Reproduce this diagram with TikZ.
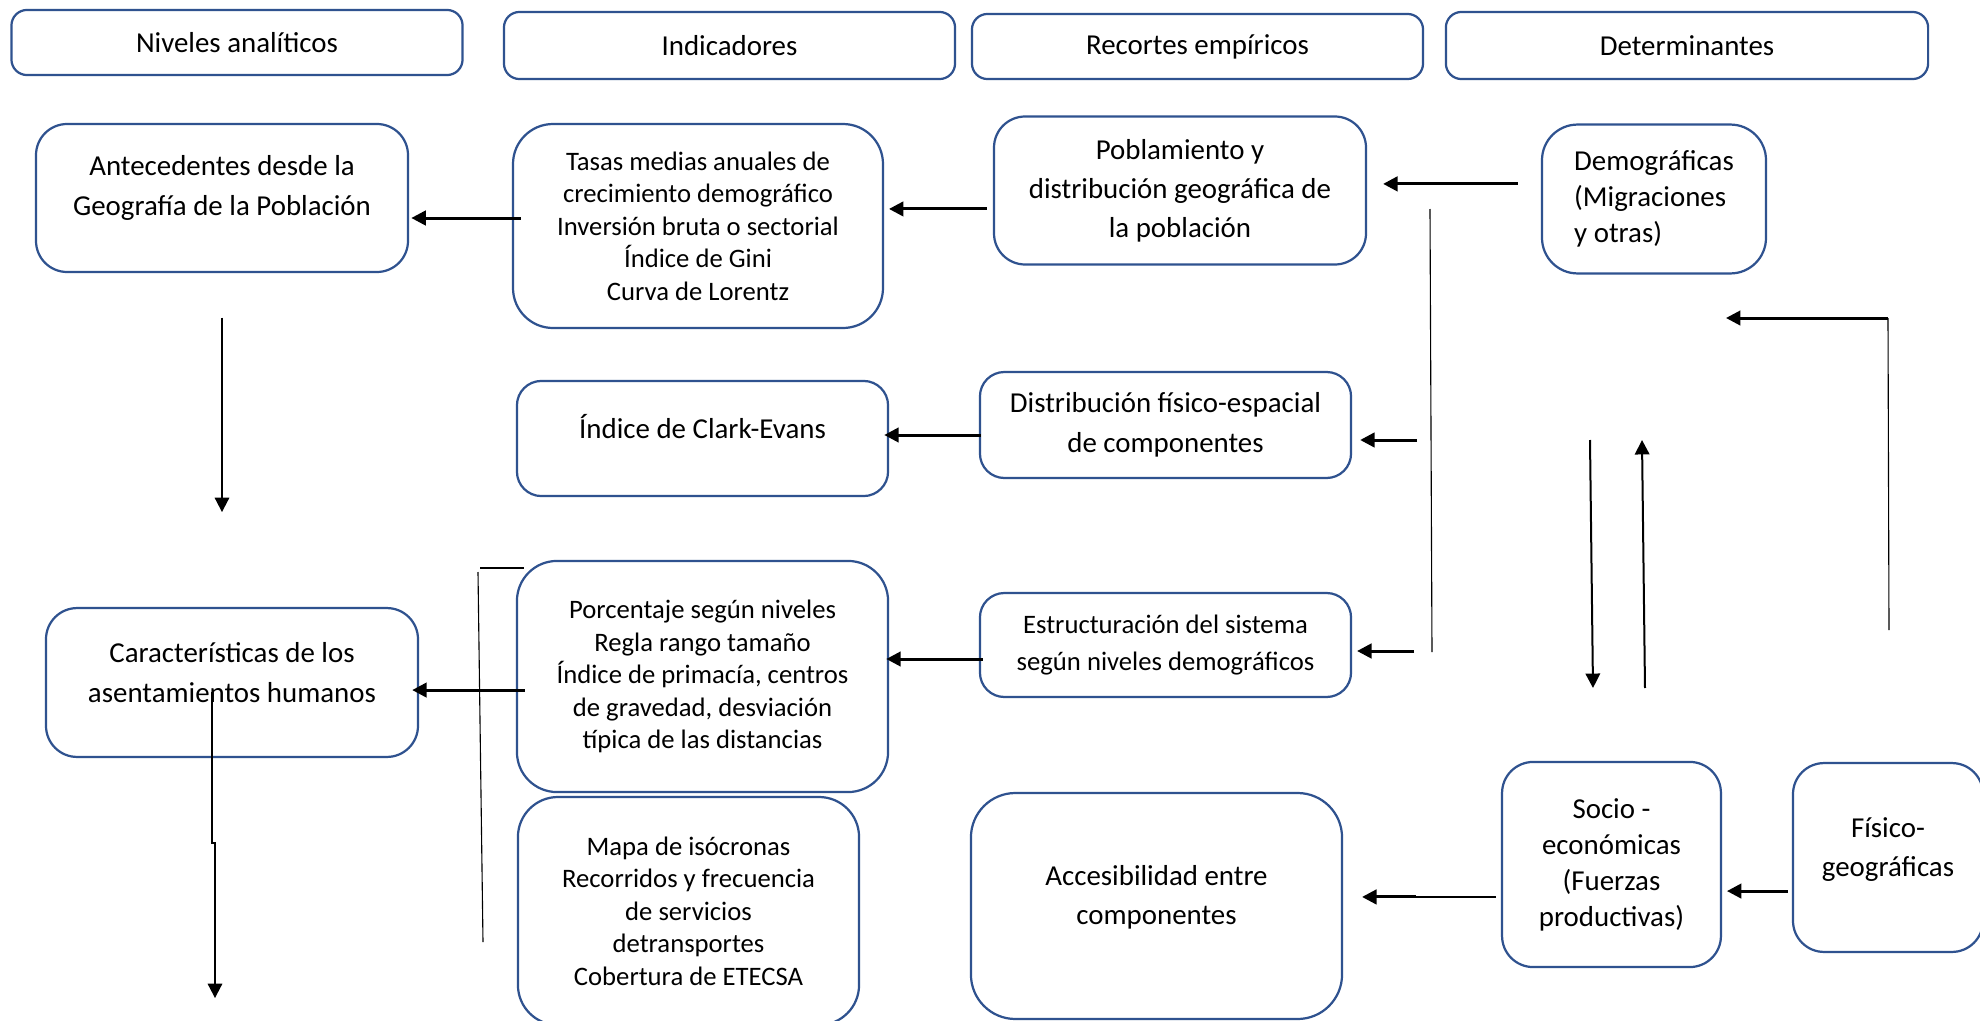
\documentclass[tikz,border=0pt]{standalone}
\usepackage{fontspec}
\setmainfont{Carlito}
\usepackage{xcolor}
\usetikzlibrary{arrows.meta, positioning}
\definecolor{boxblue}{RGB}{47,82,143}

\begin{document}
\begin{tikzpicture}[
    x=0.45pt, y=-0.45pt,
    header/.style={rectangle, rounded corners=7pt, draw=boxblue, line width=1pt, text centered, font=\fontsize{13}{16}\selectfont},
    box/.style={rectangle, rounded corners=14pt, draw=boxblue, line width=1pt, align=center, font=\fontsize{13}{17.5}\selectfont},
    smallbox/.style={box, font=\fontsize{12}{14.6}\selectfont},
    boxlabel/.style={align=center, yshift=4.5pt, font=\fontsize{13}{17.7}\selectfont},
    arrow/.style={-{Triangle[length=6.5pt,width=6.5pt]}, line width=1.35pt},
    thinarrow/.style={-{Triangle[length=6.5pt,width=6.5pt]}, line width=0.9pt},
    thinline/.style={line width=0.5pt}
]

\useasboundingbox (0,0) rectangle (1980,1021);
\fill[white] (0,0) rectangle (1980,1021);

% column headers
\node[header, minimum width=203pt, minimum height=29.3pt] (niveles) at (237,42.5) {Niveles analíticos};
\node[header, minimum width=203pt, minimum height=30.2pt] (indic) at (729.5,45.5) {Indicadores};
\node[header, minimum width=203pt, minimum height=29.3pt] (recortes) at (1197.5,46.5) {Recortes empíricos};
\node[header, minimum width=217pt, minimum height=30.2pt] (determ) at (1687,45.5) {Determinantes};

% boxes
\node[box, minimum width=167.4pt, minimum height=66.6pt,
      label={[boxlabel]center:Antecedentes desde la\\Geografía de la Población}] (antec) at (222,198) {};
\node[smallbox, rounded corners=18pt, minimum width=166.5pt, minimum height=91.8pt] (tasas) at (698,226) {Tasas medias anuales de\\crecimiento demográfico\\Inversión bruta o sectorial\\Índice de Gini\\Curva de Lorentz};
\node[box, minimum width=167.4pt, minimum height=66.6pt] (pobla) at (1180,190.5) {Poblamiento y\\distribución geográfica de\\la población};
\node[box, align=left, font=\fontsize{13}{16.2}\selectfont, rounded corners=16pt, minimum width=100.8pt, minimum height=67pt] (demog) at (1654,199) {Demográficas\\(Migraciones\\y otras)};
\node[box, rounded corners=11pt, minimum width=167pt, minimum height=51.8pt,
      label={[boxlabel, yshift=1pt]center:Índice de Clark-Evans}] (clark) at (702.5,438.5) {};
\node[box, rounded corners=11pt, font=\fontsize{13}{18}\selectfont, minimum width=167pt, minimum height=47.7pt] (distrib) at (1165.5,425) {Distribución físico-espacial\\de componentes};
\node[smallbox, rounded corners=18pt, minimum width=167pt, minimum height=104pt] (porcent) at (702.5,676.5) {Porcentaje según niveles\\Regla rango tamaño\\Índice de primacía, centros\\de gravedad, desviación\\típica de las distancias};
\node[box, rounded corners=11pt, font=\fontsize{12}{16.6}\selectfont, minimum width=167pt, minimum height=46.8pt] (estruct) at (1165.5,645) {Estructuración del sistema\\según niveles demográficos};
\node[box, minimum width=167.4pt, minimum height=67pt,
      label={[boxlabel]center:Características de los\\asentamientos humanos}] (caract) at (232,682.5) {};
\node[smallbox, rounded corners=18pt, minimum width=153.5pt, minimum height=102.6pt] (mapa) at (688.5,911) {Mapa de isócronas\\Recorridos y frecuencia\\de servicios\\detransportes\\Cobertura de ETECSA};
\node[box, rounded corners=20pt, minimum width=167pt, minimum height=101.7pt,
      label={[boxlabel, yshift=-0.5pt]center:Accesibilidad entre\\componentes}] (accesib) at (1156.5,906) {};
\node[box, font=\fontsize{13}{16.2}\selectfont, minimum width=98.5pt, minimum height=92.3pt] (socio) at (1611.5,864.5) {Socio -\\económicas\\(Fuerzas\\productivas)};
\node[box, minimum width=85.5pt, minimum height=85pt,
      label={[boxlabel, yshift=-1pt]center:Físico-\\geográficas}] (fisico) at (1888,857.5) {};

% free ends
\coordinate (d1) at (1417,440);
\coordinate (e1) at (1414,651);
\coordinate (vtop) at (1430,209);
\coordinate (vbot) at (1432,652);
\coordinate (k1) at (1889,630);
\coordinate (k2) at (1888,318);
\coordinate (k3) at (1726,318);
\coordinate (dn1) at (1590,440);
\coordinate (dn2) at (1593,688);
\coordinate (up1) at (1645,688);
\coordinate (up2) at (1642,440);
\coordinate (b1) at (480,568);
\coordinate (b2) at (524,568);
\coordinate (b3) at (478,572);
\coordinate (b4) at (483,942);

% arrows
\draw[arrow, shorten >=1pt] ([xshift=4pt,yshift=3.6pt]tasas.west) coordinate (t1) -- (t1 -| antec.east);
\draw[arrow, shorten >=2.2pt] ([xshift=-2.7pt,yshift=-8.3pt]pobla.west) coordinate (t2) -- (t2 -| tasas.east);
\draw[arrow, shorten >=7.2pt] ([xshift=-10.4pt,yshift=6.8pt]demog.west) coordinate (t3) -- (t3 -| pobla.east);
\draw[arrow, shorten >=-2.2pt] ([xshift=0.9pt,yshift=-4.5pt]distrib.west) coordinate (t4) -- (t4 -| clark.east);
\draw[arrow, shorten >=3.6pt] (d1) -- (d1 -| distrib.east);
\draw[arrow, shorten >=-1.3pt] ([xshift=1.8pt,yshift=-6.3pt]estruct.west) coordinate (t5) -- (t5 -| porcent.east);
\draw[arrow, shorten >=2.2pt] (e1) -- (e1 -| estruct.east);
\draw[arrow, shorten >=-3.1pt] ([xshift=4pt,yshift=-6.1pt]porcent.west) coordinate (t6) -- (t6 -| caract.east);
\draw[thinline] ([xshift=-2.2pt,yshift=-14.6pt]socio.west) coordinate (s1) -- ++(-80,0) coordinate (s2);
\draw[arrow, shorten >=8.5pt] (s2) -- (s2 -| accesib.east);
\draw[arrow, shorten >=2.2pt] ([xshift=-1.8pt,yshift=-15.1pt]fisico.west) coordinate (t7) -- (t7 -| socio.east);
\draw[thinline] (k1) -- (k2);
\draw[arrow] (k2) -- (k3);
\draw[thinarrow] (dn1) -- (dn2);
\draw[thinarrow] (up1) -- (up2);
\draw[thinarrow, shorten <=20pt, shorten >=42.7pt] (antec.south) -- (antec.south |- caract.north);
\draw[thinarrow] ([xshift=-9pt,yshift=-4.3pt]caract.center) -- ++(0,151) -- ++(3,0) -- ++(0,155);

% thin lines
\draw[thinline] (vtop) -- (vbot);
\draw[thinline] (b1) -- (b2);
\draw[thinline] (b3) -- (b4);

\end{tikzpicture}
\end{document}
